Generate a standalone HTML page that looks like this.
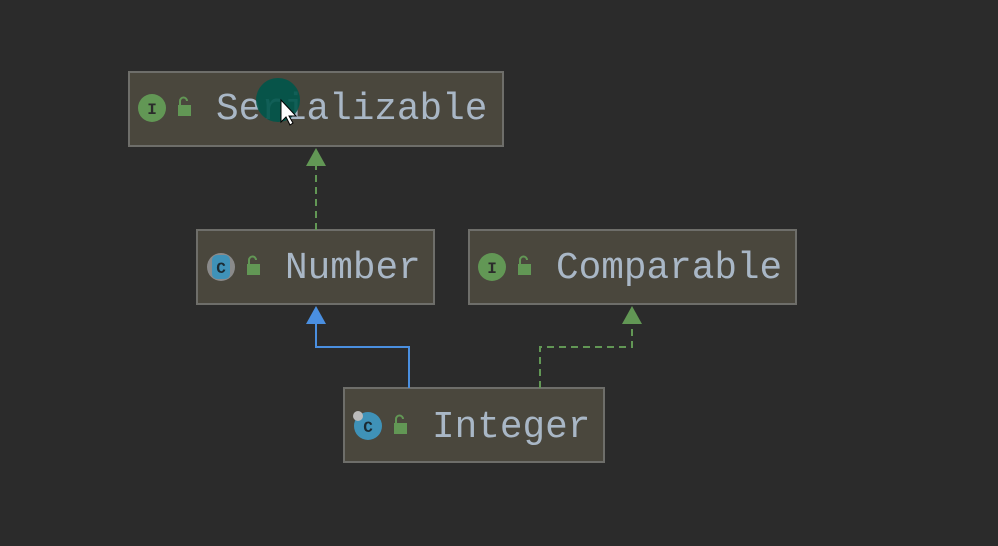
<!DOCTYPE html>
<html><head><style>
html,body{margin:0;padding:0;background:#2b2b2b;width:998px;height:546px;overflow:hidden}
</style></head><body>
<svg width="998" height="546" xmlns="http://www.w3.org/2000/svg" style="position:absolute;left:0;top:0">
<rect width="998" height="546" fill="#2b2b2b"/>
<g fill="#4a473d" stroke="#6e6e6a" stroke-width="2">
<rect x="129" y="72" width="374" height="74"/>
<rect x="197" y="230" width="237" height="74"/>
<rect x="469" y="230" width="327" height="74"/>
<rect x="344" y="388" width="260" height="74"/>
</g>
<g stroke="#629755" stroke-width="2" fill="none" stroke-dasharray="7,5">
<path d="M316 230 V166"/>
<path d="M540 388 V347 H632 V324"/>
</g>
<path d="M409 388 V347 H316 V324" stroke="#4a8fe0" stroke-width="2" fill="none"/>
<polygon points="316,148 306,166 326,166" fill="#629755"/>
<polygon points="632,306 622,324 642,324" fill="#629755"/>
<polygon points="316,306 306,324 326,324" fill="#4a8fe0"/>
<g font-family="Liberation Mono, monospace" font-size="37.7" fill="#a9b7c6">
<text x="216" y="119">Serializable</text>
<text x="285" y="278">Number</text>
<text x="556" y="278">Comparable</text>
<text x="432" y="437">Integer</text>
</g>
<g font-family="Liberation Mono, monospace" font-size="16" font-weight="bold" text-anchor="middle">
<circle cx="152" cy="108" r="14" fill="#629755"/><text x="152" y="114" fill="#2b2b2b">I</text>
<circle cx="492" cy="267" r="14" fill="#629755"/><text x="492" y="273" fill="#2b2b2b">I</text>
<circle cx="221" cy="267" r="14" fill="#8a8a8a"/><rect x="212" y="255" width="18" height="24" rx="5" fill="#3f92b8"/><text x="221" y="273" fill="#1b2b33">C</text>
<circle cx="368" cy="426" r="14" fill="#3f92b8"/><text x="368" y="432" fill="#1b2b33">C</text>
<circle cx="358" cy="416" r="5" fill="#bbbbbb"/>
</g>
<g fill="#629755">
<rect x="178" y="105" width="13" height="11"/><path d="M180 105 v-4 a3.5 3.5 0 0 1 7 0" stroke="#629755" stroke-width="2" fill="none"/>
<rect x="247" y="264" width="13" height="11"/><path d="M249 264 v-4 a3.5 3.5 0 0 1 7 0" stroke="#629755" stroke-width="2" fill="none"/>
<rect x="518" y="264" width="13" height="11"/><path d="M520 264 v-4 a3.5 3.5 0 0 1 7 0" stroke="#629755" stroke-width="2" fill="none"/>
<rect x="394" y="423" width="13" height="11"/><path d="M396 423 v-4 a3.5 3.5 0 0 1 7 0" stroke="#629755" stroke-width="2" fill="none"/>
</g>
<circle cx="278" cy="100" r="22" fill="#00554a" opacity="0.9"/>
<path d="M281 100 L281 122 L286 117 L290 125 L293 123 L289 116 L296 116 Z" fill="#ffffff" stroke="#000" stroke-width="1"/>
</svg>
</body></html>
